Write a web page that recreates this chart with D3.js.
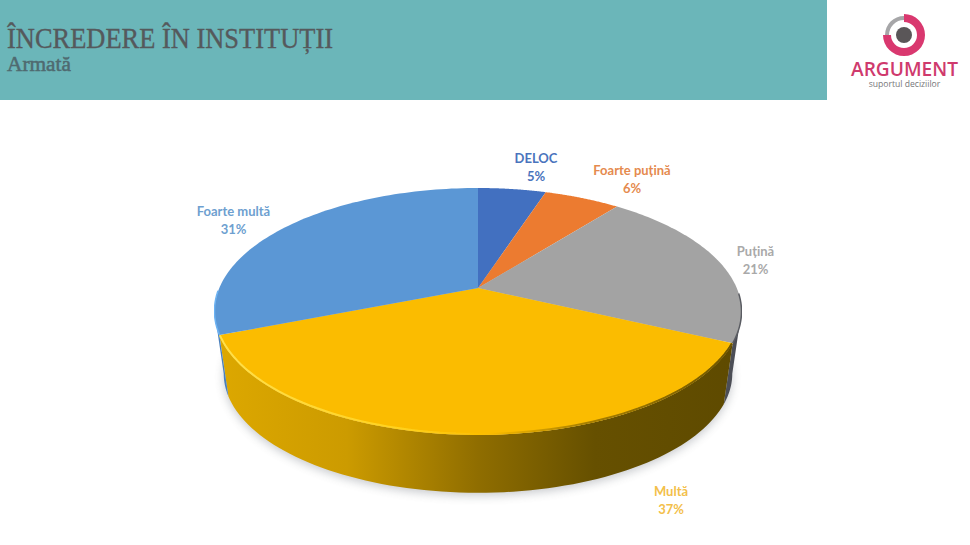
<!DOCTYPE html>
<html><head><meta charset="utf-8">
<script src="https://cdn.jsdelivr.net/npm/d3@7/dist/d3.min.js"></script>
<style>html,body{margin:0;background:#fff}svg{display:block}</style></head>
<body><svg id="c" width="970" height="545"></svg>
<script>
const categories = ["DELOC","Foarte puțină","Puțină","Multă","Foarte multă"];
const values = [5,5.6,21.4,37,31];
const colors = ["#4270c0","#ec7b30","#a3a3a3","#fbbc00","#5b97d5"];
const labelColors = ["#4a74bd","#e58a4e","#a9a9a9","#f3c04a","#6e9fd0"];
const title = "ÎNCREDERE ÎN INSTITUȚII";
const subtitle = "Armată";

const svg = d3.select("#c");
const defs = svg.append("defs");
const W = 970, H = 545;
svg.append("rect").attr("width",W).attr("height",H).attr("fill","#fff");

// header
svg.append("rect").attr("width",827).attr("height",100).attr("fill","#6bb6b9");
svg.append("text").attr("x",7).attr("y",48).attr("font-family","Liberation Serif").attr("font-size",29)
  .attr("fill","#55595c").attr("stroke","#55595c").attr("stroke-width",0.35)
  .attr("textLength",326).attr("lengthAdjust","spacingAndGlyphs").text(title);
svg.append("text").attr("x",7).attr("y",71).attr("font-family","Liberation Serif").attr("font-size",20.5)
  .attr("fill","#4f6a70").attr("stroke","#4f6a70").attr("stroke-width",0.5)
  .attr("textLength",64).attr("lengthAdjust","spacingAndGlyphs").text(subtitle);

// logo
const logo = svg.append("g").attr("transform","translate(904,35)");
const ring = d3.arc();
logo.append("path").attr("fill","#a6a6a8").attr("d",ring({innerRadius:15,outerRadius:19,startAngle:-Math.PI*0.5,endAngle:0}));
logo.append("path").attr("fill","#d9386f").attr("d",ring({innerRadius:13,outerRadius:21,startAngle:0,endAngle:Math.PI*1.5}));
logo.append("circle").attr("r",8).attr("fill","#5a5658");
svg.append("text").attr("x",904.5).attr("y",76).attr("text-anchor","middle").attr("font-family","Open Sans").attr("font-weight","600")
  .attr("font-size",19.5).attr("fill","#cf3a6d").attr("textLength",107).attr("lengthAdjust","spacingAndGlyphs").text("ARGUMENT");
svg.append("text").attr("x",904.5).attr("y",87).attr("text-anchor","middle").attr("font-family","Open Sans")
  .attr("font-size",8.6).attr("fill","#77777a").text("suportul deciziilor");

// perspective pie: d3.pie angles projected through a homography of the unit circle
const apex = [478,288], k = 0.19, rxp = 258.7, ryp = 119, depth = 63, floorScale = 0.965;
const project = (a, f=1, dy=0) => {
  const s = Math.sin(a), c = Math.cos(a), w = 1 + k*c;
  return [apex[0] + f*rxp*s/w, apex[1] - f*ryp*c/w + dy];
};
const pie = d3.pie().sort(null).value(d=>d);
const arcs = pie(values);
const line = d3.line();
const samples = (a0,a1,f=1,dy=0) => d3.range(0,81).map(i=>project(a0+(a1-a0)*i/80,f,dy));

const hGrad = (id, stops) => {
  const g = defs.append("linearGradient").attr("id",id).attr("gradientUnits","userSpaceOnUse")
    .attr("x1",215).attr("x2",742).attr("y1",0).attr("y2",0);
  stops.forEach(([o,col])=>g.append("stop").attr("offset",o).attr("stop-color",col));
};
hGrad("wallY",[[0,"#dda800"],[0.25,"#cc9b00"],[0.5,"#8f6d00"],[0.72,"#665000"],[1,"#5e4a00"]]);
hGrad("wallG",[[0,"#777"],[1,"#4b4d55"]]);
hGrad("wallB",[[0,"#4a80bd"],[1,"#2d5a8a"]]);
hGrad("rimY",[[0,"#ffe04d"],[0.35,"#ffd21f"],[0.52,"#fbbc00"],[0.7,"#a98000"],[1,"#6a5300"]]);
const blur = defs.append("filter").attr("id","sh").attr("x","-20%").attr("y","-20%").attr("width","140%").attr("height","140%");
blur.append("feGaussianBlur").attr("stdDeviation",5);
const blur2 = defs.append("filter").attr("id","bv").attr("x","-5%").attr("y","-5%").attr("width","110%").attr("height","110%");
blur2.append("feGaussianBlur").attr("stdDeviation",0.7);

// shadow under the pie
svg.append("path").attr("d",line(samples(0,2*Math.PI,floorScale,depth+3))+"Z").attr("fill","#555c66").attr("opacity",0.32).attr("filter","url(#sh)");

// side walls between the rim and the smaller floor outline
const wallPath = (a0,a1) => line(samples(a0,a1).concat(samples(a0,a1,floorScale,depth).reverse()))+"Z";
const widest = Math.acos(-k);
const wallFill = ["url(#wallB)","url(#wallB)","url(#wallG)","url(#wallY)","url(#wallB)"];
arcs.forEach((d,i)=>{
  const a0 = Math.max(d.startAngle, widest), a1 = Math.min(d.endAngle, 2*Math.PI-widest);
  if (a1>a0) svg.append("path").attr("d",wallPath(a0,a1)).attr("fill",wallFill[i]);
});
// top faces
arcs.forEach((d,i)=>{
  svg.append("path").attr("d",line([apex].concat(samples(d.startAngle,d.endAngle)))+"Z").attr("fill",colors[i]);
});
// bevel on the rims
const big = arcs[3], grey = arcs[2], blue = arcs[4];
svg.append("path").attr("d",line(samples(big.startAngle+0.01,big.endAngle-0.01,1,-1))).attr("fill","none")
  .attr("stroke","url(#rimY)").attr("stroke-width",2).attr("filter","url(#bv)");
svg.append("path").attr("d",line(samples(grey.startAngle+0.95,grey.endAngle,1,0))).attr("fill","none")
  .attr("stroke","#5a5c62").attr("stroke-width",1.5).attr("filter","url(#bv)");
svg.append("path").attr("d",line(samples(blue.startAngle,blue.startAngle+0.35,1,-0.5))).attr("fill","none")
  .attr("stroke","#6cb2f2").attr("stroke-width",1.5).attr("filter","url(#bv)");

// labels
const labelPos = [[536,159],[632,171],[755.5,252],[671,492],[233.5,212]];
categories.forEach((c,i)=>{
  const g = svg.append("text").attr("text-anchor","middle").attr("font-family","Lato").attr("font-weight","bold")
    .attr("font-size",13).attr("fill",labelColors[i]);
  g.append("tspan").attr("x",labelPos[i][0]).attr("y",labelPos[i][1]+4).text(c);
  g.append("tspan").attr("x",labelPos[i][0]).attr("y",labelPos[i][1]+22).text(Math.round(values[i])+"%");
});
</script></body></html>
